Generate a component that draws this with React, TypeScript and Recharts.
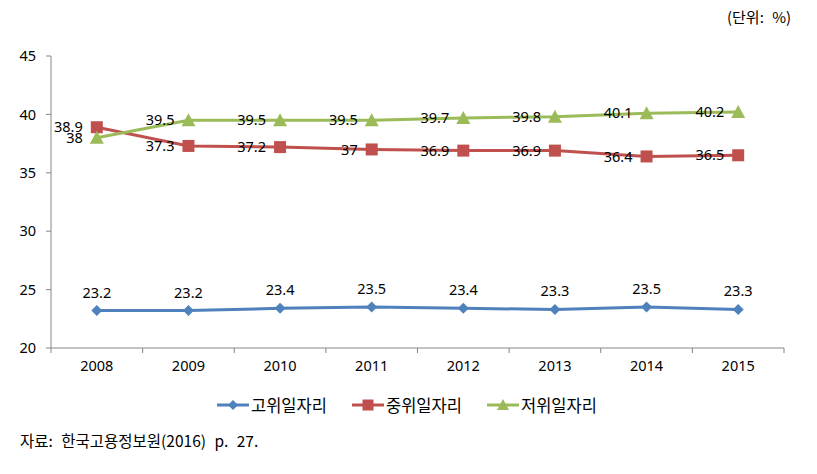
import React from "react";
import { LabelList, Line, LineChart, XAxis, YAxis } from "recharts";

const years = ["2008", "2009", "2010", "2011", "2012", "2013", "2014", "2015"];
const highJobs = [23.2, 23.2, 23.4, 23.5, 23.4, 23.3, 23.5, 23.3];
const midJobs = [38.9, 37.3, 37.2, 37, 36.9, 36.9, 36.4, 36.5];
const lowJobs = [38, 39.5, 39.5, 39.5, 39.7, 39.8, 40.1, 40.2];
const yTicks = [20, 25, 30, 35, 40, 45];

const BLUE = "#4F81BD";
const RED = "#C0504D";
const GREEN = "#9BBB59";
const AXIS = "#868686";
const NUM_FONT = "'Noto Sans', Arial, sans-serif";
const NUM_SIZE = 14.5;
const KR_FONT = "'Noto Sans CJK KR', sans-serif";

const data = years.map((year, i) => ({
  year,
  high: highJobs[i],
  mid: midJobs[i],
  low: lowJobs[i],
}));

const W = 817;
const PLOT_LEFT = 51;
const PLOT_RIGHT = 784;
const BAND = (PLOT_RIGHT - PLOT_LEFT) / years.length;

function Diamond({ cx, cy, color }: any) {
  if (cx == null || cy == null) return null;
  const r = 5.5;
  return <path d={`M${cx},${cy - r}L${cx + r},${cy}L${cx},${cy + r}L${cx - r},${cy}Z`} fill={color} />;
}

function Square({ cx, cy, color }: any) {
  if (cx == null || cy == null) return null;
  const r = 6;
  return <rect x={cx - r} y={cy - r} width={r * 2} height={r * 2} fill={color} />;
}

function Triangle({ cx, cy, color }: any) {
  if (cx == null || cy == null) return null;
  return <path d={`M${cx},${cy - 7}L${cx + 7},${cy + 6}L${cx - 7},${cy + 6}Z`} fill={color} />;
}

function YearTick({ x, y, payload, index }: any) {
  return (
    <g>
      <line x1={x - BAND / 2} x2={x - BAND / 2} y1={y} y2={y + 5} stroke={AXIS} />
      {index === years.length - 1 && (
        <line x1={x + BAND / 2} x2={x + BAND / 2} y1={y} y2={y + 5} stroke={AXIS} />
      )}
      <text x={x} y={y + 23} textAnchor="middle" fontSize={NUM_SIZE} fontFamily={NUM_FONT} fill="#000">
        {payload.value}
      </text>
    </g>
  );
}

const labelStyle = { fontSize: NUM_SIZE, fontFamily: NUM_FONT, fill: "#000" };

function LegendItem({ left, color, label, marker }: { left: number; color: string; label: string; marker: string }) {
  return (
    <div style={{ position: "absolute", left, top: 394, display: "flex", alignItems: "center", height: 22 }}>
      <svg width={32} height={14}>
        <line x1={0} x2={32} y1={7} y2={7} stroke={color} strokeWidth={3} />
        {marker === "diamond" && <path d="M16,2L21,7L16,12L11,7Z" fill={color} />}
        {marker === "square" && <rect x={10.5} y={1.5} width={11} height={11} fill={color} />}
        {marker === "triangle" && <path d="M16,1L22,12L10,12Z" fill={color} />}
      </svg>
      <span style={{ marginLeft: 2, fontSize: 16.5, fontFamily: KR_FONT, color: "#000", lineHeight: "22px" }}>
        {label}
      </span>
    </div>
  );
}

export default function App() {
  return (
    <div style={{ position: "absolute", left: 0, top: 0, width: W, height: 474, background: "#fff" }}>
      <div
        style={{
          position: "absolute",
          left: 727,
          top: 6,
          fontSize: 15,
          fontFamily: KR_FONT,
          color: "#000",
          wordSpacing: 5,
        }}
      >
        (단위: %)
      </div>
      <LineChart
        width={W}
        height={380}
        data={data}
        margin={{ top: 56, right: W - PLOT_RIGHT, bottom: 0, left: 0 }}
      >
        <XAxis
          dataKey="year"
          scale="band"
          height={32}
          axisLine={{ stroke: AXIS }}
          tickLine={false}
          tickSize={0}
          tickMargin={0}
          interval={0}
          tick={<YearTick />}
        />
        <YAxis
          width={PLOT_LEFT}
          domain={[20, 45]}
          ticks={yTicks}
          interval={0}
          axisLine={{ stroke: AXIS }}
          tickLine={{ stroke: AXIS }}
          tickSize={5}
          tickMargin={10}
          tick={{ fontSize: NUM_SIZE, fontFamily: NUM_FONT, fill: "#000" }}
        />
        <Line
          dataKey="high"
          stroke={BLUE}
          strokeWidth={3}
          isAnimationActive={false}
          dot={(p: any) => <Diamond key={p.index} cx={p.cx} cy={p.cy} color={BLUE} />}
          activeDot={false}
        >
          <LabelList dataKey="high" position="top" offset={13} style={labelStyle} />
        </Line>
        <Line
          dataKey="mid"
          stroke={RED}
          strokeWidth={3}
          isAnimationActive={false}
          dot={(p: any) => <Square key={p.index} cx={p.cx} cy={p.cy} color={RED} />}
          activeDot={false}
        >
          <LabelList dataKey="mid" position="left" offset={14} style={labelStyle} />
        </Line>
        <Line
          dataKey="low"
          stroke={GREEN}
          strokeWidth={3}
          isAnimationActive={false}
          dot={(p: any) => <Triangle key={p.index} cx={p.cx} cy={p.cy} color={GREEN} />}
          activeDot={false}
        >
          <LabelList dataKey="low" position="left" offset={14} style={labelStyle} />
        </Line>
      </LineChart>
      <LegendItem left={217} color={BLUE} label="고위일자리" marker="diamond" />
      <LegendItem left={352} color={RED} label="중위일자리" marker="square" />
      <LegendItem left={487} color={GREEN} label="저위일자리" marker="triangle" />
      <div
        style={{
          position: "absolute",
          left: 20,
          top: 429,
          fontSize: 15.5,
          fontFamily: KR_FONT,
          color: "#000",
          wordSpacing: 5,
        }}
      >
        자료: 한국고용정보원(2016) p. 27.
      </div>
    </div>
  );
}
